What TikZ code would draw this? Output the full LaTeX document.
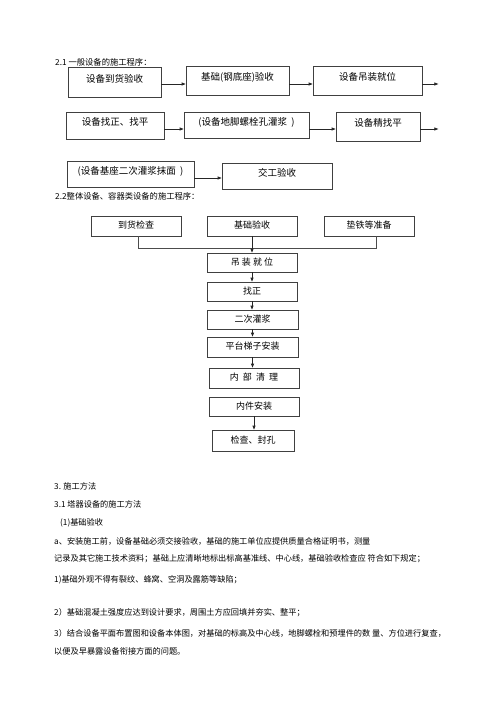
\documentclass[tikz,border=0pt]{standalone}
\usepackage{fontspec}
\setmainfont{Noto Sans CJK SC}
\usetikzlibrary{arrows.meta}
\begin{document}
\begin{tikzpicture}[x=1pt,y=-1pt,
  box/.style={draw=black!75,line width=0.7pt,inner sep=0pt,font=\fontsize{9.5}{11}\selectfont},
  upbox/.style={box,text height=7pt,text depth=7pt},
  flow/.style={box,font=\fontsize{9}{11}\selectfont,text height=7pt,text depth=2pt},
  arr/.style={draw=black!85,line width=0.7pt,-{Triangle[length=4pt,width=3pt]}},
  conn/.style={draw=black!70,line width=0.7pt},
  txt/.style={anchor=west,inner sep=0pt,font=\fontsize{8.2}{10}\selectfont},
  head/.style={anchor=west,inner sep=0pt,font=\fontsize{8.3}{10}\selectfont}]
\useasboundingbox[fill=white] (0,0) rectangle (500,707);

% 2.1
\node[head] (h21) at (55,62) {2.1 一般设备的施工程序：};
\node[upbox,minimum width=93pt,minimum height=30pt] (b1) at (114.5,82) {设备到货验收};
\node[upbox,minimum width=103pt,minimum height=29pt] (b2) at (237.5,80.5) {基础(钢底座)验收};
\node[upbox,minimum width=109pt,minimum height=29pt] (b3) at (367.5,80.5) {设备吊装就位};
\node[upbox,minimum width=98pt,minimum height=27pt] (b4) at (115,125.5) {设备找正、找平};
\node[upbox,minimum width=125pt,minimum height=26pt] (b5) at (246.5,125) {(设备地脚螺栓孔灌浆\ \ )};
\node[upbox,minimum width=84pt,minimum height=29pt] (b6) at (378,126.5) {设备精找平};
\node[upbox,minimum width=127pt,minimum height=26pt] (b7) at (130.5,174) {(设备基座二次灌浆抹面\ \ )};
\node[upbox,minimum width=110pt,minimum height=26pt] (b8) at (277,176) {交工验收};

\draw[arr] (b1.east) ++(0,2) coordinate (t1) -- (t1 -| b2.west);
\draw[arr] (b2.east) ++(0,3.5) coordinate (t2) -- (t2 -| b3.west);
\draw[arr] (b3.east) ++(0,3.5) -- ++(16,0) coordinate (e1);
\draw[arr] (b4.east) ++(0,3.5) coordinate (t4) -- (t4 -| b5.west);
\draw[arr] (b5.east) ++(0,4) coordinate (t5) -- (t5 -| b6.west);
\draw[arr] (b6.east) ++(0,2.5) -- ++(18,0) coordinate (e2);
\draw[arr] (b7.east) ++(0,4) coordinate (t7) -- (t7 -| b8.west);

% 2.2
\node[head] (h22) at (55,196) {2.2整体设备、容器类设备的施工程序：};
\node[flow,minimum width=90pt,minimum height=20pt] (A) at (136,226) {到货检查};
\node[flow,minimum width=90pt,minimum height=20pt] (B) at (252,226) {基础验收};
\node[flow,minimum width=90pt,minimum height=20pt] (C) at (369,226) {垫铁等准备};
\node[flow,minimum width=90pt,minimum height=19pt] (D) at (252,262.5) {吊\ 装\ 就\ 位};
\node[flow,minimum width=90pt,minimum height=19pt] (E) at (252,291.5) {找正};
\node[flow,minimum width=91pt,minimum height=19pt] (F) at (252.5,319.5) {二次灌浆};
\node[flow,minimum width=91pt,minimum height=20pt] (G) at (252.5,347) {平台梯子安装};
\node[flow,minimum width=90pt,minimum height=20pt] (H) at (254,378) {内\ \ 部\ \ 清\ \ 理};
\node[flow,minimum width=90pt,minimum height=19pt] (I) at (254,406.5) {内件安装};
\node[flow,minimum width=82pt,minimum height=21pt] (J) at (253,440.5) {检查、封孔};

\coordinate (ja) at ([xshift=2pt]A.south);
\coordinate (jc) at ([xshift=7pt]C.south);
\draw[conn] (ja) -- ++(0,12) coordinate (jl) -- (jl -| jc) -- (jc);
\draw[arr] (B.south) -- (D.north);
\draw[arr] (D.south) -- (E.north);
\draw[arr] (E.south) -- (E.south |- F.north);
\draw[arr] (F.south) -- (F.south |- G.north);
\draw[arr] (G.south) -- (G.south |- H.north);
\draw[arr] (I.south) -- (I.south |- J.north);

% 3
\node[txt] (s3) at (54,486) {3. 施工方法};
\node[txt] (s31) at (54,504) {3.1 塔器设备的施工方法};
\node[txt] (s311) at (60,523) {(1)基础验收};
\node[txt] (la) at (54,541) {a、安装施工前，设备基础必须交接验收，基础的施工单位应提供质量合格证明书，测量};
\node[txt] (lb) at (54,559) {记录及其它施工技术资料；基础上应清晰地标出标高基准线、中心线，基础验收检查应 符合如下规定；};
\node[txt] (l1) at (54,580) {1)基础外观不得有裂纹、蜂窝、空洞及露筋等缺陷；};
\node[txt] (l2) at (54,613) {2）基础混凝土强度应达到设计要求，周围土方应回填并夯实、整平；};
\node[txt] (l3) at (54,633) {3）结合设备平面布置图和设备本体图，对基础的标高及中心线，地脚螺栓和预埋件的数 量、方位进行复查，};
\node[txt] (l4) at (54,651) {以便及早暴露设备衔接方面的问题。};
\end{tikzpicture}
\end{document}
